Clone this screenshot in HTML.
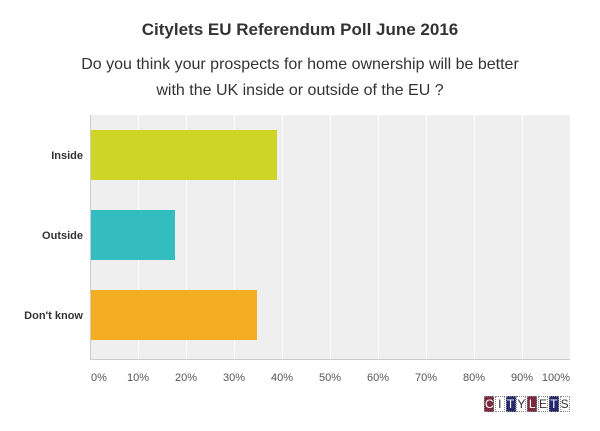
<!DOCTYPE html>
<html><head><style>
body{margin:0;width:600px;height:431px;background:#fff;font-family:"Liberation Sans",Arial,sans-serif;position:relative;overflow:hidden}
.t{position:absolute;left:0;width:600px;text-align:center;color:#333}
.lbl{position:absolute;font-size:11px;font-weight:bold;color:#333;text-align:right;width:80px;left:3px}
.tk{position:absolute;top:372px;font-size:11px;color:#555;width:40px;text-align:center}
.logo{position:absolute;left:484px;top:396px;display:flex}
.logo span{width:10px;height:16px;border:1px dotted #888;box-sizing:border-box;font-size:12px;line-height:15px;text-align:center;color:#fff;margin-right:0.8px}
.m{background:#7a2a3e}.n{background:#27276e}.w{background:#fff;color:#333!important}
</style></head><body>
<div class="t" style="top:20px;font-size:17px;font-weight:bold">Citylets EU Referendum Poll June 2016</div>
<div class="t" style="top:52px;font-size:16px;line-height:26px">Do you think your prospects for home ownership will be better<br>with the UK inside or outside of the EU ?</div>
<svg style="position:absolute;left:0;top:0" width="600" height="431">
<rect x="90" y="115" width="480" height="244" fill="#efefef"/>
<g stroke="#fff" stroke-width="1">
<line x1="138.5" y1="115" x2="138.5" y2="359"/><line x1="186.5" y1="115" x2="186.5" y2="359"/><line x1="234.5" y1="115" x2="234.5" y2="359"/><line x1="282.5" y1="115" x2="282.5" y2="359"/><line x1="330.5" y1="115" x2="330.5" y2="359"/><line x1="378.5" y1="115" x2="378.5" y2="359"/><line x1="426.5" y1="115" x2="426.5" y2="359"/><line x1="474.5" y1="115" x2="474.5" y2="359"/><line x1="522.5" y1="115" x2="522.5" y2="359"/>
</g>
<rect x="91" y="130" width="186" height="50" fill="#cfd527"/>
<rect x="91" y="210" width="84" height="50" fill="#33bdbf"/>
<rect x="91" y="290" width="166" height="50" fill="#f5ae22"/>
<line x1="90.5" y1="115" x2="90.5" y2="360" stroke="#ccc"/>
<line x1="90" y1="359.5" x2="570" y2="359.5" stroke="#ccc"/>
</svg>
<div class="lbl" style="top:150px">Inside</div>
<div class="lbl" style="top:230px">Outside</div>
<div class="lbl" style="top:310px">Don't know</div>
<div class="tk" style="left:79px">0%</div>
<div class="tk" style="left:118px">10%</div>
<div class="tk" style="left:166px">20%</div>
<div class="tk" style="left:214px">30%</div>
<div class="tk" style="left:262px">40%</div>
<div class="tk" style="left:310px">50%</div>
<div class="tk" style="left:358px">60%</div>
<div class="tk" style="left:406px">70%</div>
<div class="tk" style="left:454px">80%</div>
<div class="tk" style="left:502px">90%</div>
<div class="tk" style="left:536px">100%</div>
<div class="logo"><span class="m">C</span><span class="w">I</span><span class="n">T</span><span class="w">Y</span><span class="m">L</span><span class="w">E</span><span class="n">T</span><span class="w">S</span></div>
</body></html>
